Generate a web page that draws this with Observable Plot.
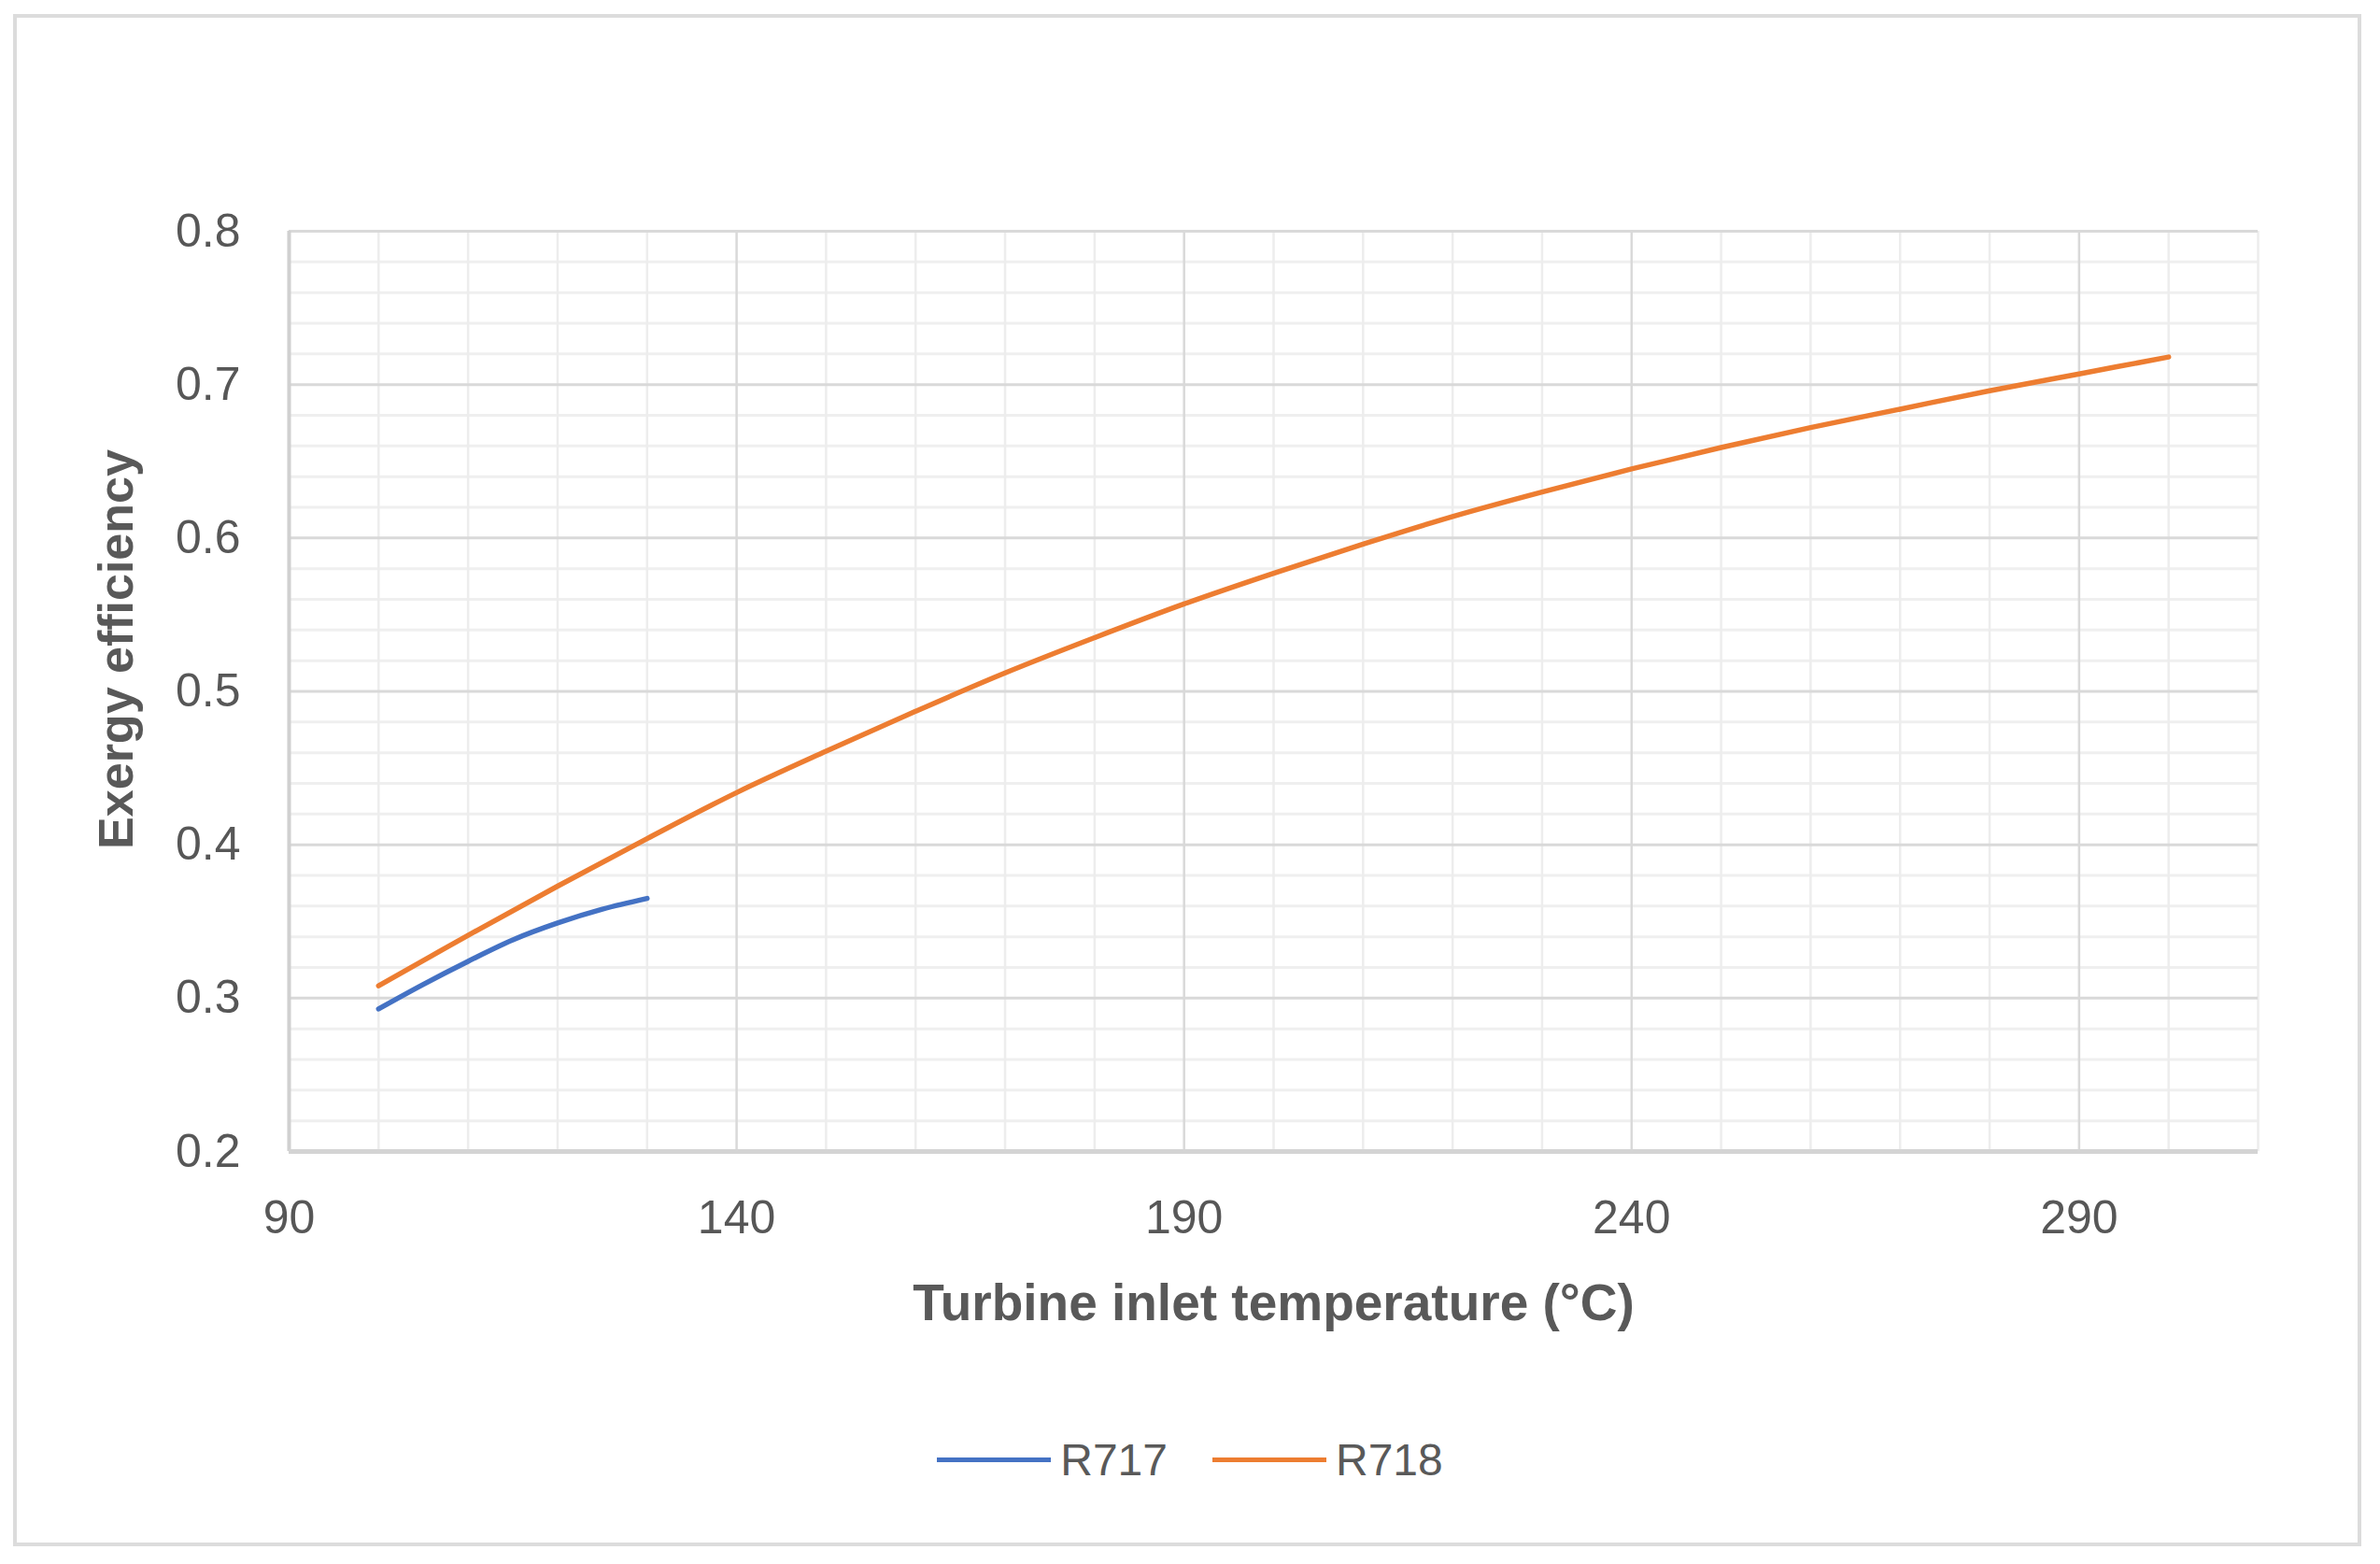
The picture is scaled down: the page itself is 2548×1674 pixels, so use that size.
<!DOCTYPE html>
<html>
<head>
<meta charset="utf-8">
<script src="https://cdn.jsdelivr.net/npm/d3@7"></script>
<script src="https://cdn.jsdelivr.net/npm/@observablehq/plot@0.6"></script>
<style>
  html, body { margin: 0; padding: 0; background: #ffffff; }
  #wrap { position: relative; width: 2548px; height: 1674px; background: #ffffff; overflow: hidden; }
  #frame { position: absolute; left: 14px; top: 15px; width: 2514px; height: 1640px; box-sizing: border-box; border: 4px solid #dcdcdc; }
  #chart { position: absolute; left: 0; top: 0; }
  #legend { position: absolute; left: 16px; width: 2516px; top: 1532px; height: 60px; display: flex; align-items: center; justify-content: center; font-family: "Liberation Sans", Arial, sans-serif; font-size: 48px; color: #595959; }
  .item { display: flex; align-items: center; }
  .sw { display: inline-block; width: 122px; height: 5px; margin-right: 10px; }
</style>
</head>
<body>
<div id="wrap">
  <div id="frame"></div>
  <div id="chart"></div>
  <div id="legend"></div>
</div>
<script>
// ---- data ----
const seriesNames = ["R717", "R718"];
const seriesColors = ["#4472C4", "#ED7D31"];

const tempR717 = [100, 105, 110, 115, 120, 125, 130];
const effR717  = [0.293, 0.309, 0.324, 0.338, 0.349, 0.358, 0.365];

const tempR718 = [100, 110, 120, 130, 140, 150, 160, 170, 180, 190, 200, 210, 220, 230, 240, 250, 260, 270, 280, 290, 300];
const effR718  = [0.308, 0.341, 0.373, 0.404, 0.434, 0.461, 0.487, 0.512, 0.535, 0.557, 0.577, 0.596, 0.614, 0.630, 0.645, 0.659, 0.672, 0.684, 0.696, 0.707, 0.718];

const xTicks = [90, 140, 190, 240, 290];
const xMinor = [100, 110, 120, 130, 150, 160, 170, 180, 200, 210, 220, 230, 250, 260, 270, 280, 300, 310];
const yTicks = [0.2, 0.3, 0.4, 0.5, 0.6, 0.7, 0.8];
const yMinor = [0.22, 0.24, 0.26, 0.28, 0.32, 0.34, 0.36, 0.38, 0.42, 0.44, 0.46, 0.48, 0.52, 0.54, 0.56, 0.58, 0.62, 0.64, 0.66, 0.68, 0.72, 0.74, 0.76, 0.78];

const xLabel = "Turbine inlet temperature (°C)";
const yLabel = "Exergy efficiency";

// ---- tables for the library ----
const rows717 = tempR717.map((t, i) => ({t, e: effR717[i], s: seriesNames[0]}));
const rows718 = tempR718.map((t, i) => ({t, e: effR718[i], s: seriesNames[1]}));

const font = "'Liberation Sans', Arial, sans-serif";

const chart = Plot.plot({
  width: 2548,
  height: 1470,
  marginLeft: 309,
  marginRight: 131,
  marginTop: 247,
  marginBottom: 238,
  style: { fontFamily: font, fontSize: "50px", color: "#575757", background: "transparent", overflow: "visible" },
  x: { domain: [90, 310], axis: null },
  y: { domain: [0.2, 0.8], axis: null },
  marks: [
    Plot.ruleY(yMinor, { stroke: "#efefef", strokeWidth: 3 }),
    Plot.ruleX(xMinor, { stroke: "#ededed", strokeWidth: 2.5 }),
    Plot.ruleY(yTicks.filter(d => d !== 0.2), { stroke: "#d9d9d9", strokeWidth: 3 }),
    Plot.ruleX(xTicks.filter(d => d !== 90), { stroke: "#d9d9d9", strokeWidth: 2.5 }),
    Plot.ruleX([90], { stroke: "#d0d0d0", strokeWidth: 4 }),
    Plot.ruleY([0.2], { stroke: "#d4d4d4", strokeWidth: 5 }),
    Plot.line(rows717, { x: "t", y: "e", stroke: seriesColors[0], strokeWidth: 5.5, curve: "catmull-rom" }),
    Plot.line(rows718, { x: "t", y: "e", stroke: seriesColors[1], strokeWidth: 5.5, curve: "catmull-rom" }),
    Plot.axisX({ ticks: xTicks, tickSize: 0, tickPadding: 52, label: null, fontSize: 50, tickFormat: d => String(d) }),
    Plot.axisY({ ticks: yTicks, tickSize: 0, tickPadding: 52, label: null, fontSize: 50, tickFormat: d => d.toFixed(1) }),
    Plot.text([xLabel], { text: d => d, frameAnchor: "bottom", dy: 163, lineAnchor: "middle", fontSize: 55, fontWeight: "bold", fill: "#595959" }),
    Plot.text([yLabel], { text: d => d, frameAnchor: "left", dx: -184, dy: -45, rotate: -90, lineAnchor: "middle", textAnchor: "middle", fontSize: 52, fontWeight: "bold", fill: "#595959" })
  ]
});
document.getElementById("chart").appendChild(chart);

// ---- legend below the svg ----
const legend = document.getElementById("legend");
seriesNames.forEach((name, i) => {
  const item = document.createElement("div");
  item.className = "item";
  if (i > 0) item.style.marginLeft = "48px";
  const sw = document.createElement("span");
  sw.className = "sw";
  sw.style.background = seriesColors[i];
  const label = document.createElement("span");
  label.textContent = name;
  item.appendChild(sw);
  item.appendChild(label);
  legend.appendChild(item);
});
</script>
</body>
</html>
